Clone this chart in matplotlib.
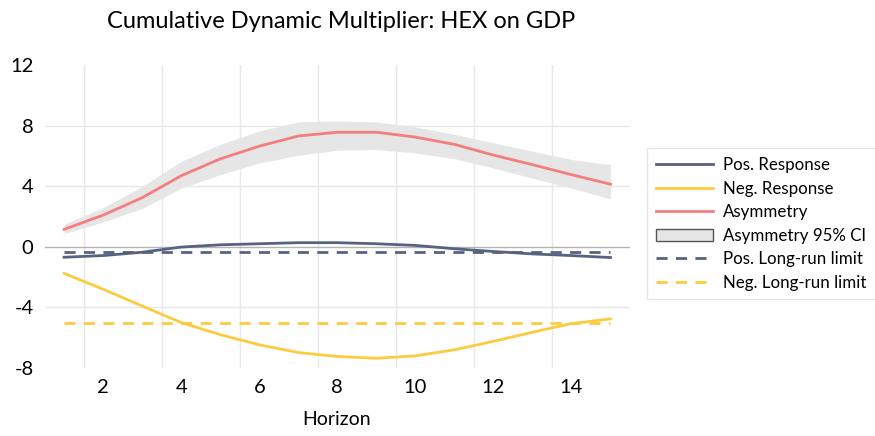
import numpy as np
import matplotlib
matplotlib.use("Agg")
import matplotlib.pyplot as plt
from matplotlib.patches import Patch
from matplotlib.lines import Line2D

plt.rcParams['font.family'] = ['Lato', 'DejaVu Sans']
plt.rcParams['axes.unicode_minus'] = False

horizon = list(range(1, 16))
asym = [1.15, 2.09, 3.24, 4.69, 5.80, 6.64, 7.31, 7.56, 7.56, 7.24, 6.76, 6.05, 5.42, 4.76, 4.13]
ci_upper = [1.49, 2.58, 3.98, 5.64, 6.76, 7.64, 8.24, 8.31, 8.24, 7.91, 7.42, 6.87, 6.31, 5.76, 5.42]
ci_lower = [0.87, 1.64, 2.53, 3.87, 4.76, 5.53, 6.04, 6.37, 6.42, 6.20, 5.82, 5.20, 4.53, 3.87, 3.16]
pos_resp = [-0.69, -0.58, -0.36, -0.02, 0.13, 0.20, 0.27, 0.27, 0.20, 0.09, -0.13, -0.31, -0.47, -0.58, -0.71]
neg_resp = [-1.76, -2.80, -3.91, -5.00, -5.80, -6.47, -6.98, -7.24, -7.36, -7.20, -6.80, -6.24, -5.64, -5.07, -4.76]
pos_lr = -0.37
neg_lr = -5.04

c_pos = "#56637e"
c_neg = "#fdcb3f"
c_asym = "#f47e7e"
c_ci = "#e6e6e6"

fig = plt.figure(figsize=(8.75, 4.36), dpi=100)
ax = fig.add_axes([0.051, 0.156, 0.669, 0.695])

# grid
for g in np.arange(1.5, 14.6, 2):
    ax.axvline(g, color="#e8e8e8", lw=1, zorder=0)
for g in [-4, 4, 8]:
    ax.axhline(g, color="#e8e8e8", lw=1, zorder=0)
ax.axhline(0, color="#b4b4b4", lw=1, zorder=0)

ax.fill_between(horizon, ci_lower, ci_upper, color=c_ci, lw=0, zorder=1)
ax.plot(horizon, pos_resp, color=c_pos, lw=2, zorder=3)
ax.plot(horizon, neg_resp, color=c_neg, lw=2, zorder=3)
ax.plot(horizon, asym, color=c_asym, lw=2, zorder=3)
ax.plot([horizon[0], horizon[-1]], [pos_lr, pos_lr], color=c_pos, lw=2, ls=(0, (4, 3)), zorder=2)
ax.plot([horizon[0], horizon[-1]], [neg_lr, neg_lr], color=c_neg, lw=2, ls=(0, (4, 3)), zorder=2)

ax.set_xlim(0.5, 15.5)
ax.set_ylim(-8, 12)
ax.set_xticks([2, 4, 6, 8, 10, 12, 14])
ax.set_yticks([-8, -4, 0, 4, 8, 12])
ax.tick_params(length=0, labelsize=14.5, pad=8)
for s in ax.spines.values():
    s.set_visible(False)

fig.text(0.385, 0.018, "Horizon", fontsize=14, ha="center", va="bottom")
fig.text(0.39, 0.95, "Cumulative Dynamic Multiplier: HEX on GDP", fontsize=17,
         ha="center", va="center")

handles = [
    Line2D([], [], color=c_pos, lw=2),
    Line2D([], [], color=c_neg, lw=2),
    Line2D([], [], color=c_asym, lw=2),
    Patch(facecolor=c_ci, edgecolor="#555555", lw=1),
    Line2D([], [], color=c_pos, lw=2, ls=(0, (4, 3))),
    Line2D([], [], color=c_neg, lw=2, ls=(0, (4, 3))),
]
labels = ["Pos. Response", "Neg. Response", "Asymmetry", "Asymmetry 95% CI",
          "Pos. Long-run limit", "Neg. Long-run limit"]
leg = fig.legend(handles, labels, loc="upper left", bbox_to_anchor=(0.730, 0.679),
                 fontsize=12.2, frameon=True, fancybox=False, handlelength=3.37,
                 handletextpad=0.6, labelspacing=0.45, borderpad=0.5)
leg.get_frame().set_edgecolor("#e0e0e0")
leg.get_frame().set_linewidth(1)

fig.savefig("out.png", dpi=100)
